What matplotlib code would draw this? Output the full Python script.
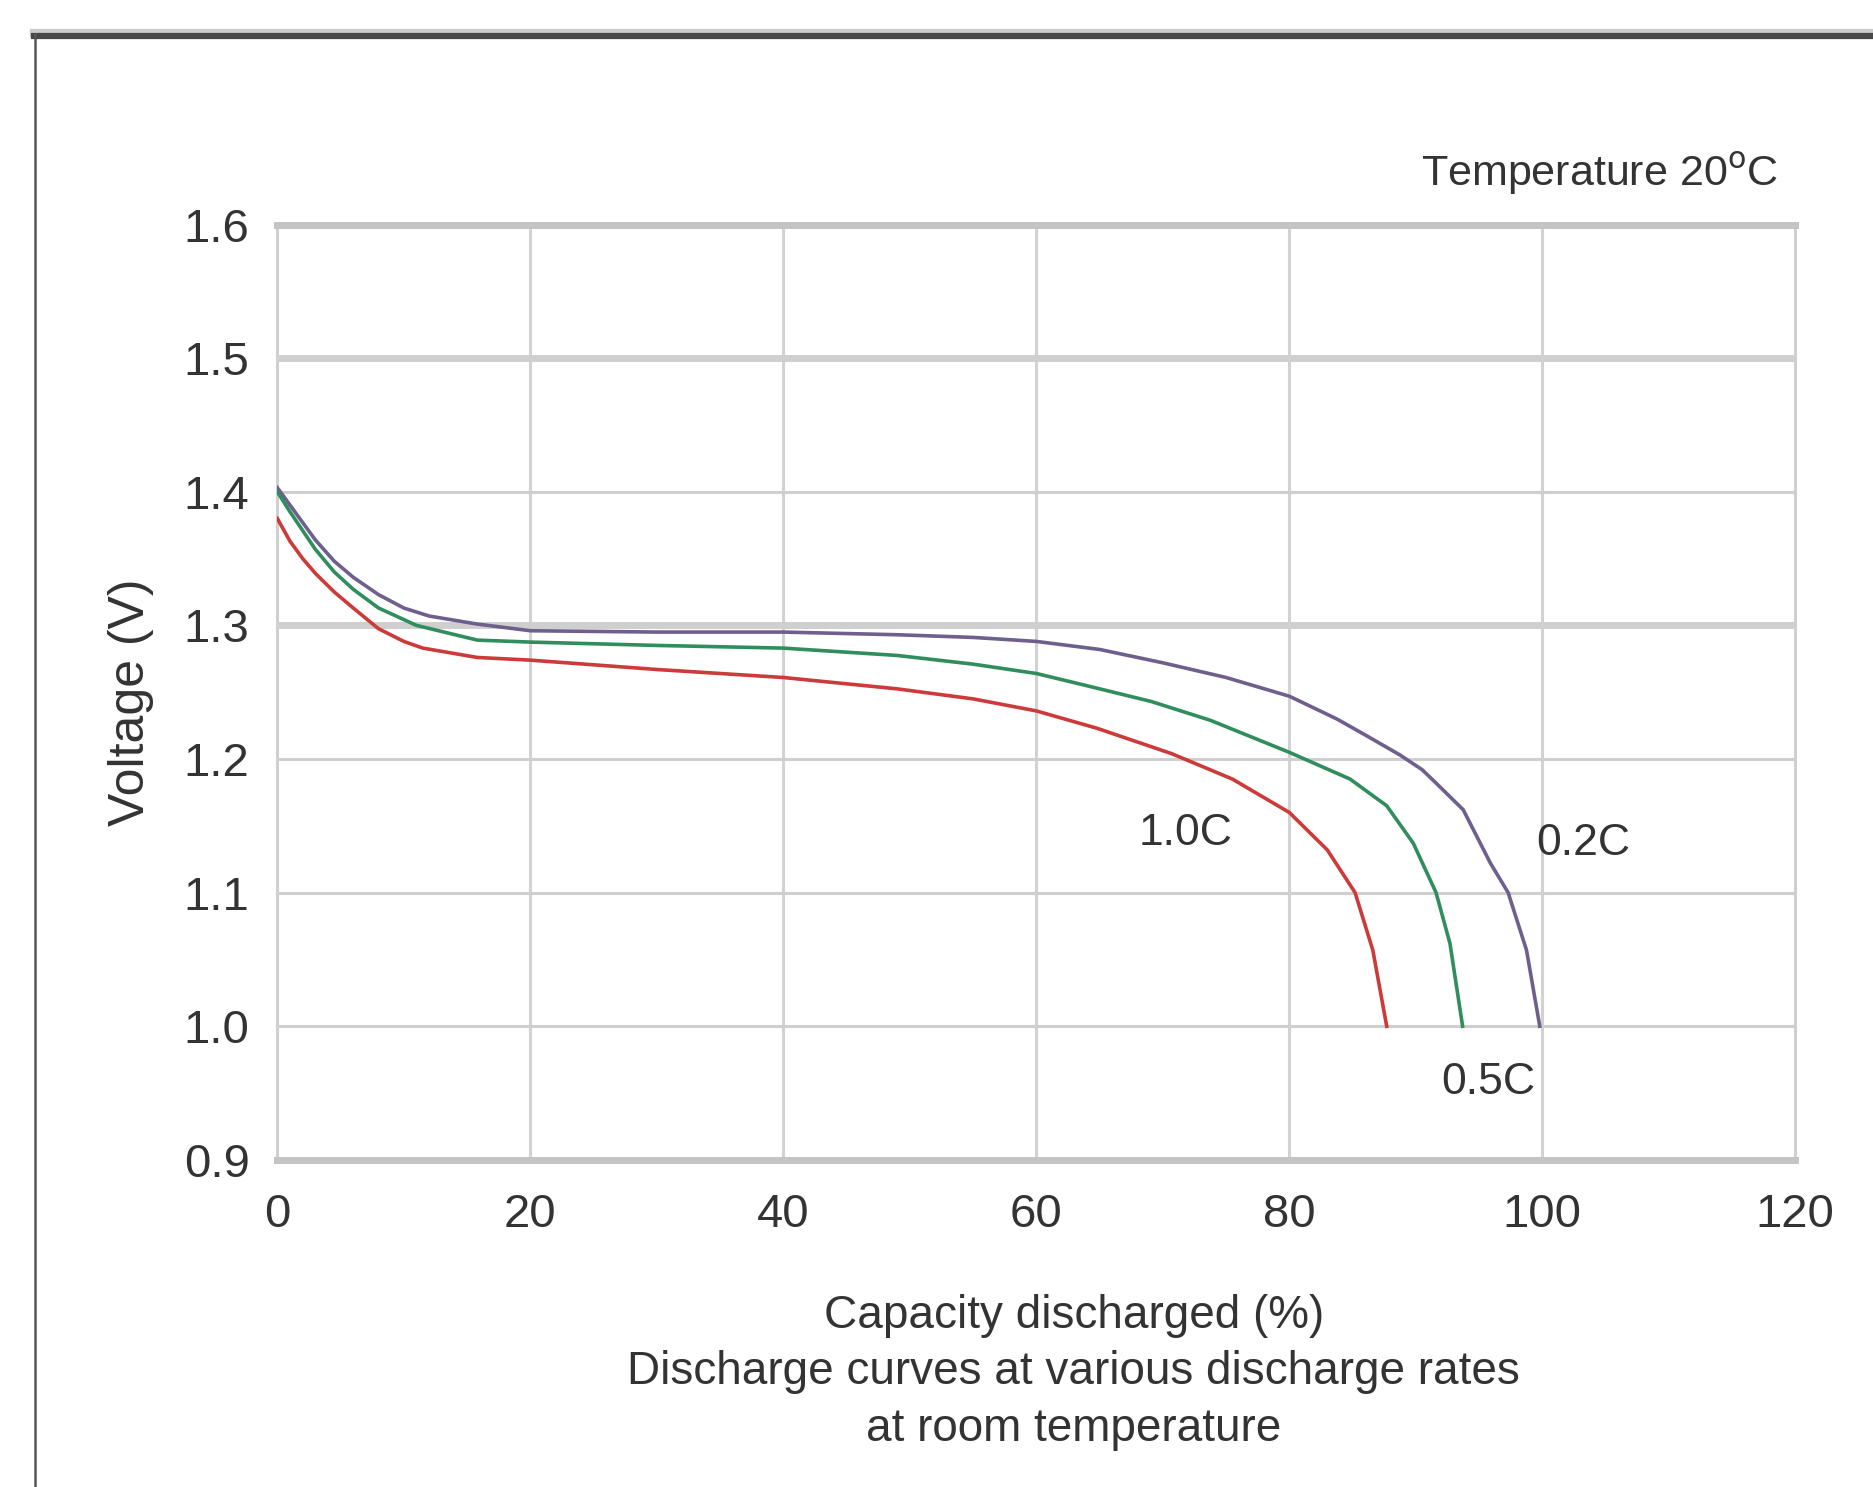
import numpy as np
import matplotlib.pyplot as plt
from matplotlib.lines import Line2D

plt.rcParams['font.family'] = ['Liberation Sans', 'DejaVu Sans']

# capacity discharged (%) and voltage (V)
cap_02 = [0, 1, 2, 3, 4.5, 6, 8, 10, 12, 15.8, 20, 30, 40, 49, 55, 60, 65, 70, 75, 80,
          83.75, 86, 88.75, 90.5, 91.6, 93.75, 95.9, 97.3, 98.75, 99.8]
v_02 = [1.403, 1.39, 1.377, 1.364, 1.348, 1.336, 1.323, 1.313, 1.307, 1.301, 1.296, 1.295,
        1.295, 1.293, 1.291, 1.288, 1.282, 1.272, 1.261, 1.247, 1.23, 1.218, 1.203, 1.192,
        1.182, 1.162, 1.122, 1.10, 1.057, 1.0]

cap_05 = [0, 1, 2, 3, 4.5, 6, 8, 11, 15.8, 20, 30, 40, 49, 55, 60, 64.8, 69.1, 73.75, 80,
          84.8, 87.7, 89.8, 91.6, 92.7, 93.7]
v_05 = [1.40, 1.385, 1.371, 1.357, 1.34, 1.327, 1.313, 1.30, 1.289, 1.2875, 1.285, 1.283,
        1.2775, 1.271, 1.264, 1.253, 1.243, 1.229, 1.205, 1.185, 1.165, 1.137, 1.10, 1.062, 1.0]

cap_10 = [0, 1, 2, 3, 4.5, 6, 8, 10, 11.5, 15.8, 20, 30, 40, 49, 55, 60, 64.8, 70.7, 75.5,
          80, 83, 85.2, 86.6, 87.7]
v_10 = [1.38, 1.363, 1.35, 1.339, 1.325, 1.313, 1.2975, 1.288, 1.283, 1.276, 1.274, 1.267,
        1.261, 1.2525, 1.245, 1.236, 1.223, 1.204, 1.185, 1.16, 1.132, 1.10, 1.057, 1.0]

series = [
    (cap_02, v_02, "#6e5f8d"),
    (cap_05, v_05, "#2f8d5e"),
    (cap_10, v_10, "#cc3a3a"),
]

x_ticks = [0, 20, 40, 60, 80, 100, 120]
y_ticks = [0.9, 1.0, 1.1, 1.2, 1.3, 1.4, 1.5, 1.6]

fig = plt.figure(figsize=(18.74, 14.87), dpi=100)
ax = fig.add_axes([0.148, 0.220, 0.810, 0.629])

# grid
for xv in x_ticks[1:-1]:
    ax.axvline(xv, color="#d2d2d2", lw=2.2, zorder=1)
for yv in y_ticks[1:-1]:
    thick = yv in (1.3, 1.5)
    ax.axhline(yv, color="#cfcfcf", lw=5 if thick else 2.2, zorder=1)

for cap, v, col in series:
    ax.plot(cap, v, color=col, lw=2.6, zorder=3, solid_joinstyle="round")

ax.set_xlim(0, 120)
ax.set_ylim(0.9, 1.6)
ax.set_xticks(x_ticks)
ax.set_yticks(y_ticks)
ax.set_xticklabels([str(t) for t in x_ticks])
ax.set_yticklabels(["%.1f" % t for t in y_ticks])
ax.tick_params(length=0, labelsize=34, colors="#333333")
ax.tick_params(axis="y", pad=20)
ax.tick_params(axis="x", pad=24)

for side in ["left", "right"]:
    ax.spines[side].set_color("#d0d0d0")
    ax.spines[side].set_linewidth(2.2)
for side in ["top", "bottom"]:
    ax.spines[side].set_color("#c4c4c4")
    ax.spines[side].set_linewidth(5)

# curve labels
ax.text(71.8, 1.144, "1.0C", fontsize=32, color="#333333", ha="center", va="center")
ax.text(103.2, 1.137, "0.2C", fontsize=32, color="#333333", ha="center", va="center")
ax.text(95.7, 0.958, "0.5C", fontsize=32, color="#333333", ha="center", va="center")

fig.text(0.949, 0.883, "Temperature 20$^{\\mathrm{o}}$C", fontsize=31, color="#333333",
         ha="right", va="center")

fig.text(0.070, 0.528, "Voltage (V)", fontsize=36, color="#333333", rotation=90,
         ha="center", va="center")

fig.text(0.573, 0.0772, "Capacity discharged (%)\nDischarge curves at various discharge rates\nat room temperature",
         fontsize=33, color="#333333", ha="center", va="center", linespacing=1.37)

# outer frame: dark top bar and thin left edge, cut off at right and bottom
fig.add_artist(Line2D([0.018, 1.0], [0.978, 0.978], transform=fig.transFigure,
                      color="#cccccc", lw=6))
fig.add_artist(Line2D([0.018, 1.0], [0.9755, 0.9755], transform=fig.transFigure,
                      color="#484848", lw=4.5))
fig.add_artist(Line2D([0.0185, 0.0185], [0.0, 0.977], transform=fig.transFigure,
                      color="#555555", lw=1.8))

fig.savefig("out.png", dpi=100, facecolor="white")
